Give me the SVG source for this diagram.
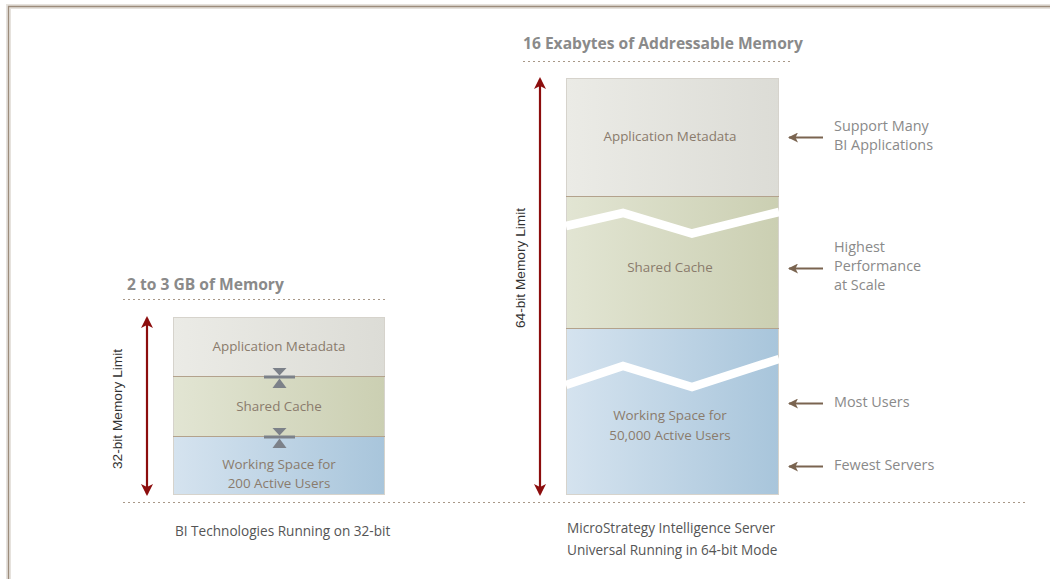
<svg xmlns="http://www.w3.org/2000/svg" width="1050" height="579" viewBox="0 0 1050 579">
  <defs>
    <linearGradient id="gMeta" x1="0" y1="0" x2="1" y2="0">
      <stop offset="0" stop-color="#ebebe6"/>
      <stop offset="1" stop-color="#dcdcd6"/>
    </linearGradient>
    <linearGradient id="gCache" x1="0" y1="0" x2="1" y2="0">
      <stop offset="0" stop-color="#e2e5d3"/>
      <stop offset="1" stop-color="#cbcfb2"/>
    </linearGradient>
    <linearGradient id="gWork" x1="0" y1="0" x2="1" y2="0">
      <stop offset="0" stop-color="#d5e3ef"/>
      <stop offset="1" stop-color="#a8c5db"/>
    </linearGradient>
    <marker id="redHead" viewBox="0 0 12 12" refX="10" refY="6" markerWidth="12" markerHeight="12" markerUnits="userSpaceOnUse" orient="auto-start-reverse">
      <path d="M0,0 L12,6 L0,12 L3,6 Z" fill="#8c0d0d"/>
    </marker>
    <marker id="brownHead" viewBox="0 0 10 10" refX="9" refY="5" markerWidth="10" markerHeight="10" markerUnits="userSpaceOnUse" orient="auto">
      <path d="M0,0 L10,5 L0,10 L2.5,5 Z" fill="#7a6450"/>
    </marker>
    <g id="squeeze">
      <rect x="-15.5" y="-1.5" width="31" height="3" fill="#7c8189"/>
      <path d="M-7,-9 L7,-9 L0,-1.5 Z" fill="#7c8189"/>
      <path d="M-7,11 L7,11 L0,1.5 Z" fill="#7c8189"/>
    </g>
  </defs>
  <style>
    .title { font-family: "Open Sans", "Noto Sans", sans-serif; font-size: 15.6px; font-weight: bold; fill: #8a8a8a; }
    .box { font-family: "Open Sans", "Noto Sans", sans-serif; font-size: 13.4px; fill: #8a7b6c; text-anchor: middle; }
    .side { font-family: "Open Sans", "Noto Sans", sans-serif; font-size: 14.4px; fill: #8a8a8a; }
    .cap { font-family: "Open Sans", "Noto Sans", sans-serif; font-size: 13.6px; fill: #555555; }
    .limit { font-family: "Liberation Sans", Arial, sans-serif; font-size: 13.7px; fill: #333333; text-anchor: middle; }
    .dots { stroke: #a89888; stroke-width: 1.2; stroke-dasharray: 2 3; fill: none; }
    .sep { stroke: #b3a28c; stroke-width: 1; }
    .redArrow { stroke: #8c0d0d; stroke-width: 2.2; fill: none; }
    .pointer { stroke: #7a6450; stroke-width: 2; fill: none; }
    .gap { stroke: #ffffff; stroke-width: 8.5; fill: none; stroke-linejoin: miter; }
  </style>

  <!-- page frame -->
  <rect width="1050" height="579" fill="#ffffff"/>
  <path d="M8.5,579 L8.5,6.5 L1050,6.5" fill="none" stroke="#e6e2dd" stroke-width="5"/>
  <path d="M8.5,579 L8.5,6.5 L1050,6.5" fill="none" stroke="#9c8c7c" stroke-width="1.3"/>

  <!-- headings and guide lines -->
  <g id="heading-32">
    <text class="title" x="127" y="290">2 to 3 GB of Memory</text>
    <line class="dots" x1="123" y1="299.5" x2="388" y2="299.5"/>
  </g>
  <g id="heading-64">
    <text class="title" x="523" y="49">16 Exabytes of Addressable Memory</text>
    <line class="dots" x1="523" y1="61.5" x2="790" y2="61.5"/>
  </g>
  <line class="dots" x1="123" y1="502.5" x2="1026" y2="502.5"/>

  <!-- 32-bit memory stack -->
  <g id="stack-32">
    <rect x="173" y="317" width="212" height="59" fill="url(#gMeta)"/>
    <rect x="173" y="376" width="212" height="60" fill="url(#gCache)"/>
    <rect x="173" y="436" width="212" height="59" fill="url(#gWork)"/>
    <rect x="173.5" y="317.5" width="211" height="177" fill="none" stroke="#d6d3cc" stroke-width="1"/>
    <line class="sep" x1="173" y1="376.5" x2="385" y2="376.5"/>
    <line class="sep" x1="173" y1="436.5" x2="385" y2="436.5"/>
    <text class="box" x="279" y="351">Application Metadata</text>
    <text class="box" x="279" y="411">Shared Cache</text>
    <text class="box" x="279" y="469">Working Space for</text>
    <text class="box" x="279" y="488">200 Active Users</text>
    <use href="#squeeze" x="279.5" y="377"/>
    <use href="#squeeze" x="279.5" y="437"/>
  </g>

  <!-- 64-bit memory stack -->
  <g id="stack-64">
    <rect x="566" y="78" width="213" height="118" fill="url(#gMeta)"/>
    <rect x="566" y="196" width="213" height="132" fill="url(#gCache)"/>
    <rect x="566" y="328" width="213" height="167" fill="url(#gWork)"/>
    <rect x="566.5" y="78.5" width="212" height="416" fill="none" stroke="#d6d3cc" stroke-width="1"/>
    <line class="sep" x1="566" y1="196.5" x2="779" y2="196.5"/>
    <line class="sep" x1="566" y1="328.5" x2="779" y2="328.5"/>
    <path class="gap" d="M566,226 L623,213 L692,233.5 L779,212"/>
    <path class="gap" d="M566,385 L623,366 L692,387 L779,359"/>
    <text class="box" x="670" y="141">Application Metadata</text>
    <text class="box" x="670" y="272">Shared Cache</text>
    <text class="box" x="670" y="420">Working Space for</text>
    <text class="box" x="670" y="440">50,000 Active Users</text>
  </g>

  <!-- side notes -->
  <g id="note-apps">
    <text class="side" x="834" y="131">Support Many</text>
    <text class="side" x="834" y="150">BI Applications</text>
  </g>
  <g id="note-perf">
    <text class="side" x="834" y="252">Highest</text>
    <text class="side" x="834" y="271">Performance</text>
    <text class="side" x="834" y="290">at Scale</text>
  </g>
  <g id="note-users">
    <text class="side" x="834" y="407">Most Users</text>
  </g>
  <g id="note-servers">
    <text class="side" x="834" y="470">Fewest Servers</text>
  </g>

  <!-- captions -->
  <g id="caption-32">
    <text class="cap" x="175" y="536">BI Technologies Running on 32-bit</text>
  </g>
  <g id="caption-64">
    <text class="cap" x="567" y="533">MicroStrategy Intelligence Server</text>
    <text class="cap" x="567" y="555">Universal Running in 64-bit Mode</text>
  </g>

  <!-- limit labels -->
  <g id="limit-32">
    <text class="limit" transform="translate(122,409) rotate(-90)">32-bit Memory Limit</text>
  </g>
  <g id="limit-64">
    <text class="limit" transform="translate(525,268) rotate(-90)">64-bit Memory Limit</text>
  </g>

  <!-- connectors -->
  <g id="connectors">
    <line class="redArrow" x1="147" y1="318" x2="147" y2="494" marker-start="url(#redHead)" marker-end="url(#redHead)"/>
    <line class="redArrow" x1="540" y1="79" x2="540" y2="494" marker-start="url(#redHead)" marker-end="url(#redHead)"/>
    <line class="pointer" x1="823" y1="137.5" x2="789" y2="137.5" marker-end="url(#brownHead)"/>
    <line class="pointer" x1="823" y1="268.5" x2="789" y2="268.5" marker-end="url(#brownHead)"/>
    <line class="pointer" x1="823" y1="403.5" x2="789" y2="403.5" marker-end="url(#brownHead)"/>
    <line class="pointer" x1="823" y1="466.5" x2="789" y2="466.5" marker-end="url(#brownHead)"/>
  </g>
</svg>
